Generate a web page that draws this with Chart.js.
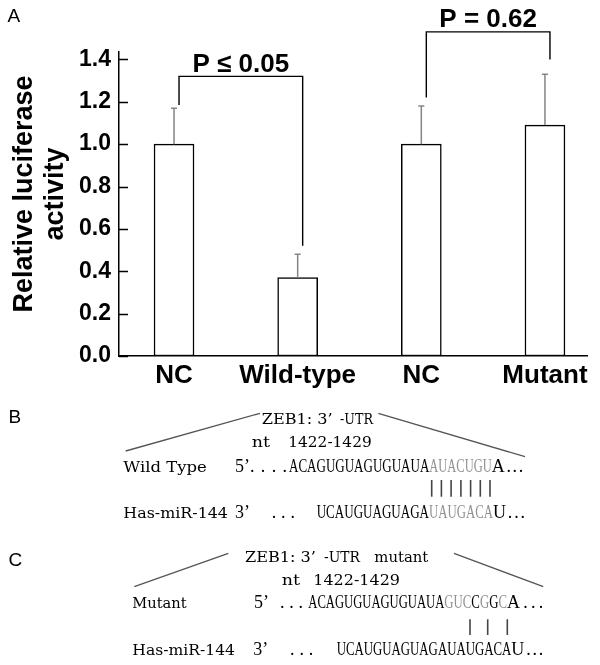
<!DOCTYPE html>
<html>
<head>
<meta charset="utf-8">
<title>ZEB1 3'-UTR luciferase assay</title>
<script src="https://cdn.jsdelivr.net/npm/chart.js@4.4.1/dist/chart.umd.min.js"></script>
<style>
  body { margin: 0; background: #fff; }
  #wrap { position: relative; width: 600px; height: 665px; }
  #chartBox { position: absolute; left: 0; top: 0; width: 600px; height: 395px; }
  #seq { position: absolute; left: 0; top: 0; }
</style>
</head>
<body>
<div id="wrap">
  <div id="chartBox"><canvas id="luc"></canvas></div>

  <svg id="seq" width="600" height="665" font-family="'Liberation Serif', 'Times New Roman', serif" fill="#000">
    <!-- panel letters -->
    <g font-family="'Liberation Sans', Arial, sans-serif" font-size="19">
      <text x="7.5" y="22.3">A</text>
      <text x="8.5" y="423.3">B</text>
      <text x="8.5" y="565.7">C</text>
    </g>

    <!-- slanted guide lines -->
    <g stroke="#555" stroke-width="1.3">
      <line x1="125.7" y1="451" x2="260" y2="413.3"/>
      <line x1="378.3" y1="413.3" x2="525" y2="456.7"/>
      <line x1="134.3" y1="586.7" x2="228.3" y2="553.3"/>
      <line x1="454" y1="553.3" x2="543.3" y2="586.7"/>
    </g>

    <!-- panel B -->
    <g font-family="'DejaVu Serif', serif" font-size="15.5">
      <text x="261.7" y="424" textLength="71" lengthAdjust="spacingAndGlyphs">ZEB1: 3’</text>
      <text x="340" y="424" textLength="33" lengthAdjust="spacingAndGlyphs">-UTR</text>
      <text x="251.7" y="447" textLength="18.3" lengthAdjust="spacingAndGlyphs">nt</text>
      <text x="288.3" y="447" textLength="83.4" lengthAdjust="spacingAndGlyphs">1422-1429</text>
      <text x="123.3" y="471.7" textLength="83.4" lengthAdjust="spacingAndGlyphs">Wild Type</text>
      <text x="123.3" y="518" textLength="104.7" lengthAdjust="spacingAndGlyphs">Has-miR-144</text>
    </g>
    <g font-size="18">
      <text x="235" y="471.7">5’</text>
      <text x="250" y="471.7" textLength="37" lengthAdjust="spacing">....</text>
      <text x="289" y="471.7" textLength="140.3" lengthAdjust="spacingAndGlyphs" font-size="19">ACAGUGUAGUGUAUA</text>
      <text x="429.3" y="471.7" textLength="62.4" lengthAdjust="spacingAndGlyphs" font-size="19" fill="#919191">AUACUGU</text>
      <text x="491.7" y="471.7" textLength="31.6" lengthAdjust="spacing">A...</text>

      <text x="235" y="518">3’</text>
      <text x="271.7" y="518" textLength="23.3" lengthAdjust="spacing">...</text>
      <text x="316.7" y="518" textLength="112.3" lengthAdjust="spacingAndGlyphs" font-size="19">UCAUGUAGUAGA</text>
      <text x="429" y="518" textLength="64" lengthAdjust="spacingAndGlyphs" font-size="19" fill="#919191">UAUGACA</text>
      <text x="493" y="518" textLength="32" lengthAdjust="spacing">U...</text>
    </g>
    <g stroke="#444" stroke-width="1.6">
      <line x1="431.7" y1="480" x2="431.7" y2="496.7"/>
      <line x1="441.4" y1="480" x2="441.4" y2="496.7"/>
      <line x1="451.1" y1="480" x2="451.1" y2="496.7"/>
      <line x1="460.9" y1="480" x2="460.9" y2="496.7"/>
      <line x1="470.6" y1="480" x2="470.6" y2="496.7"/>
      <line x1="480.3" y1="480" x2="480.3" y2="496.7"/>
      <line x1="490" y1="480" x2="490" y2="496.7"/>
    </g>

    <!-- panel C -->
    <g font-family="'DejaVu Serif', serif" font-size="15.5">
      <text x="245" y="561.7" textLength="71" lengthAdjust="spacingAndGlyphs">ZEB1: 3’</text>
      <text x="324" y="561.7" textLength="36" lengthAdjust="spacingAndGlyphs">-UTR</text>
      <text x="374.3" y="561.7" textLength="54" lengthAdjust="spacingAndGlyphs">mutant</text>
      <text x="281.7" y="585" textLength="18.3" lengthAdjust="spacingAndGlyphs">nt</text>
      <text x="313.3" y="585" textLength="86.7" lengthAdjust="spacingAndGlyphs">1422-1429</text>
      <text x="132.3" y="608.3" textLength="54.4" lengthAdjust="spacingAndGlyphs">Mutant</text>
      <text x="132.3" y="655" textLength="102.7" lengthAdjust="spacingAndGlyphs">Has-miR-144</text>
    </g>
    <g font-size="18">
      <text x="254" y="608.3">5’</text>
      <text x="280" y="608.3" textLength="23" lengthAdjust="spacing">...</text>
      <text x="308.3" y="608.3" textLength="136" lengthAdjust="spacingAndGlyphs" font-size="19">ACAGUGUAGUGUAUA</text>
      <text x="444.3" y="608.3" textLength="62.7" lengthAdjust="spacingAndGlyphs" font-size="19"><tspan fill="#919191">GUC</tspan><tspan>C</tspan><tspan fill="#919191">G</tspan><tspan>G</tspan><tspan fill="#919191">C</tspan></text>
      <text x="507" y="608.3" textLength="36.3" lengthAdjust="spacing">A...</text>

      <text x="253.3" y="655">3’</text>
      <text x="290" y="655" textLength="23.3" lengthAdjust="spacing">...</text>
      <text x="336.7" y="655" textLength="174.6" lengthAdjust="spacingAndGlyphs" font-size="19">UCAUGUAGUAGAUAUGACA</text>
      <text x="511.3" y="655" textLength="32" lengthAdjust="spacing">U...</text>
    </g>
    <g stroke="#444" stroke-width="1.6">
      <line x1="470" y1="619.3" x2="470" y2="635"/>
      <line x1="487.7" y1="619.3" x2="487.7" y2="635"/>
      <line x1="507.3" y1="619.3" x2="507.3" y2="635"/>
    </g>
  </svg>
</div>

<script>
// values
const categories = ['NC', 'Wild-type', 'NC', 'Mutant'];
const activity = [1.00, 0.37, 1.00, 1.09];
const activitySD = [0.17, 0.11, 0.18, 0.24];
const yTicks = [0, 0.2, 0.4, 0.6, 0.8, 1.0, 1.2, 1.4];

// significance brackets (bar indices, label, bracket height, where each leg stops)
const comparisons = [
    { from: 0, to: 1, label: 'P \u2264 0.05', level: 1.32, legEnds: [1.185, 0.52] },
    { from: 2, to: 3, label: 'P = 0.62', level: 1.53, legEnds: [1.22, 1.40] }
];

const boldFont = "'Liberation Sans', Arial, sans-serif";

const extras = {
    id: 'extras',
    afterDraw(chart) {
        const { ctx, scales: { x, y } } = chart;
        ctx.save();

        // tick marks pointing into the plot
        ctx.strokeStyle = '#000';
        ctx.lineWidth = 1.5;
        yTicks.forEach(v => {
            const py = Math.round(y.getPixelForValue(v)) + 0.5;
            ctx.beginPath();
            ctx.moveTo(x.left, py);
            ctx.lineTo(x.left + 9, py);
            ctx.stroke();
        });

        // error bars (upper half only)
        ctx.strokeStyle = '#858585';
        activity.forEach((v, i) => {
            const px = x.getPixelForValue(i);
            const top = y.getPixelForValue(v + activitySD[i]);
            ctx.beginPath();
            ctx.moveTo(px, y.getPixelForValue(v));
            ctx.lineTo(px, top);
            ctx.moveTo(px - 3, top);
            ctx.lineTo(px + 3, top);
            ctx.stroke();
        });

        // brackets + p values
        ctx.strokeStyle = '#000';
        ctx.lineWidth = 1.4;
        ctx.fillStyle = '#000';
        ctx.font = 'bold 26px ' + boldFont;
        ctx.textAlign = 'center';
        ctx.textBaseline = 'alphabetic';
        comparisons.forEach(c => {
            const x1 = x.getPixelForValue(c.from) + 5;
            const x2 = x.getPixelForValue(c.to) + 5;
            const ly = y.getPixelForValue(c.level);
            ctx.beginPath();
            ctx.moveTo(x1, y.getPixelForValue(c.legEnds[0]));
            ctx.lineTo(x1, ly);
            ctx.lineTo(x2, ly);
            ctx.lineTo(x2, y.getPixelForValue(c.legEnds[1]));
            ctx.stroke();
            ctx.fillText(c.label, (x1 + x2) / 2, ly - 4.5);
        });

        // y axis title, two lines
        ctx.font = 'bold 27px ' + boldFont;
        ctx.translate(0, 194);
        ctx.rotate(-Math.PI / 2);
        ctx.fillText('Relative luciferase', 0, 32);
        ctx.fillText('activity', 0, 63);
        ctx.restore();
    }
};

new Chart(document.getElementById('luc'), {
    type: 'bar',
    data: {
        datasets: [{
            data: activity.map((v, i) => ({ x: i, y: v })),
            backgroundColor: '#fff',
            borderColor: '#000',
            borderWidth: 1.5,
            borderSkipped: false,
            barThickness: 40
        }]
    },
    options: {
        responsive: true,
        maintainAspectRatio: false,
        animation: false,
        layout: { padding: { top: 52, right: 13, bottom: 0, left: 0 } },
        plugins: { legend: { display: false }, tooltip: { enabled: false } },
        scales: {
            x: {
                type: 'linear',
                offset: false,
                min: -0.445,
                max: 3.34,
                afterBuildTicks: s => { s.ticks = categories.map((c, i) => ({ value: i })); },
                afterFit: s => { s.height = 39; s.paddingLeft = 0; s.paddingRight = 0; },
                grid: { display: false, drawTicks: false, offset: false },
                border: { color: '#000', width: 1.5 },
                ticks: {
                    callback: v => categories[v],
                    font: { family: boldFont, weight: 'bold', size: 26 },
                    color: '#000',
                    padding: 4,
                    maxRotation: 0,
                    autoSkip: false
                }
            },
            y: {
                min: 0,
                max: 1.435,
                afterBuildTicks: s => { s.ticks = yTicks.map(v => ({ value: v })); },
                afterFit: s => { s.width = 119; s.paddingTop = 0; s.paddingBottom = 0; },
                grid: { display: false, drawTicks: false },
                border: { color: '#000', width: 1.5 },
                ticks: {
                    callback: v => v.toFixed(1),
                    font: { family: boldFont, weight: 'bold', size: 23 },
                    color: '#000',
                    padding: 8
                }
            }
        }
    },
    plugins: [extras]
});
</script>
</body>
</html>
